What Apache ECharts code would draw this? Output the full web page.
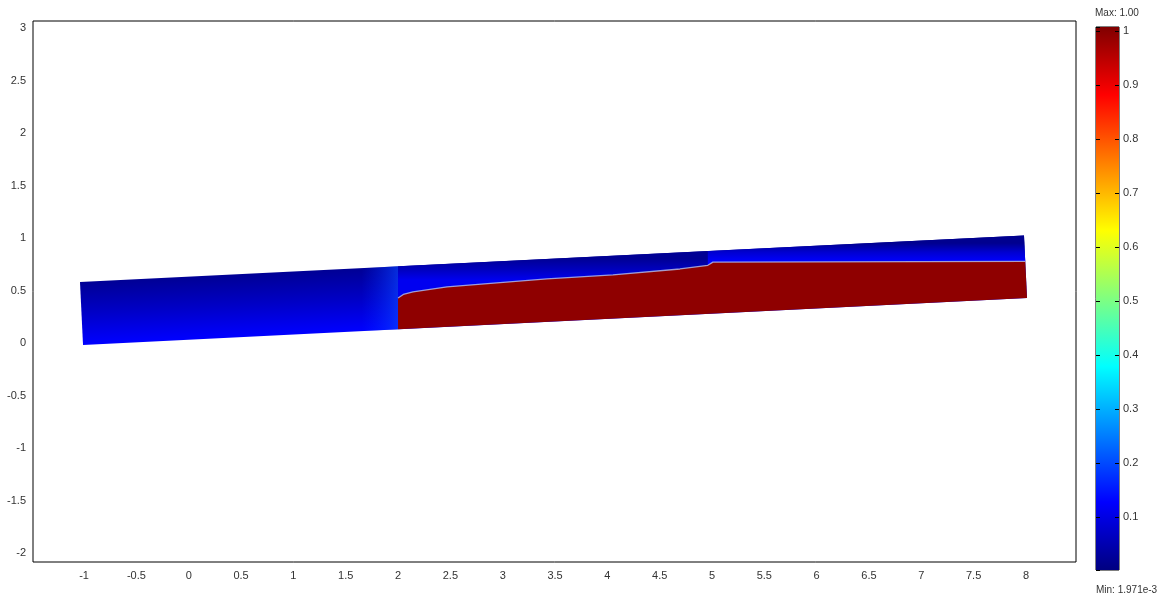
<!DOCTYPE html>
<html><head><meta charset="utf-8">
<script src="https://cdn.jsdelivr.net/npm/echarts@6/dist/echarts.min.js"></script>
<style>html,body{margin:0;padding:0;background:#fff}#c{width:1173px;height:597px}</style>
</head><body><div id="c"></div>
<script>
// ---- data ----
const xRange = [-1.488, 8.478];
const yRange = [-2.086, 3.067];
// channel outline (bottom-left, bottom-right, top-right, top-left)
const channelX = [-1.010, 8.010, 7.981, -1.039];
const channelY = [-0.019, 0.429, 1.024, 0.581];
// interface between phases (left to right)
const interfaceX = [2.000, 2.050, 2.143, 2.468, 2.945, 3.423, 4.054, 4.694, 4.960, 5.009, 7.993];
const interfaceY = [0.429, 0.462, 0.486, 0.534, 0.572, 0.610, 0.648, 0.705, 0.740, 0.770, 0.778];
// bottom edge point where the red phase starts
const phaseStartX = 2.000;
const phaseStartY = 0.130;
// field levels
const blueTopLevel = 0.02;
const blueMidLevel = 0.07;
const blueBottomLevel = 0.125;
const redLevel = 0.985;
const colorRange = [0.001971, 1.00];
const colorAxisMax = 1.007;

function jet(v){
  const c = t => Math.max(0, Math.min(1, t));
  const r = c(Math.min(4*v-1.5, -4*v+4.5));
  const g = c(Math.min(4*v-0.5, -4*v+3.5));
  const b = c(Math.min(4*v+0.5, -4*v+2.5));
  return 'rgb(' + Math.round(r*255) + ',' + Math.round(g*255) + ',' + Math.round(b*255) + ')';
}
const G = echarts.graphic;

function polySeries(xs, ys, styleFn, z){
  return {
    type: 'custom', coordinateSystem: 'cartesian2d', xAxisIndex: 0, yAxisIndex: 0,
    z: z, silent: true, animation: false, clip: true,
    data: xs.map((x, i) => [x, ys[i]]),
    encode: {x: 0, y: 1},
    renderItem: function(params, api){
      if (params.dataIndex !== 0) return null;
      const pts = xs.map((x, i) => api.coord([x, ys[i]]));
      return {type: 'polygon', shape: {points: pts}, style: styleFn(api, pts)};
    }
  };
}
function mid(a, b){ return [(a[0]+b[0])/2, (a[1]+b[1])/2]; }
function topY(x){ return channelY[3] + (x-channelX[3])*(channelY[2]-channelY[3])/(channelX[2]-channelX[3]); }
function botY(x){ return channelY[0] + (x-channelX[0])*(channelY[1]-channelY[0])/(channelX[1]-channelX[0]); }
function blueGrad(a, b, top, midL, bot){
  return new G.LinearGradient(a[0], a[1], b[0], b[1], [
    {offset: 0, color: jet(top)},
    {offset: 0.5, color: jet(midL)},
    {offset: 1, color: jet(bot)}
  ], true);
}

// whole channel (blue)
const chanSeries = polySeries(channelX, channelY, function(api, p){
  const top = mid(p[3], p[2]), bot = mid(p[0], p[1]);
  return {fill: blueGrad(top, bot, blueTopLevel, blueMidLevel, blueBottomLevel)};
}, 2);

// bright blue zone left of the red front
const frontX = [1.65, phaseStartX, phaseStartX, 1.65];
const frontY = [botY(1.65), phaseStartY, topY(phaseStartX), topY(1.65)];
const frontSeries = polySeries(frontX, frontY, function(api, p){
  return {fill: new G.LinearGradient(p[0][0], 0, p[1][0], 0, [
    {offset: 0, color: 'rgba(0,40,255,0)'},
    {offset: 1, color: 'rgba(10,70,255,0.65)'}
  ], true)};
}, 3);

// upper blue strip above the curved interface (2 <= x <= 5)
const nCurve = 9;
const stripAX = interfaceX.slice(0, nCurve).concat([interfaceX[nCurve-1], phaseStartX]);
const stripAY = interfaceY.slice(0, nCurve).concat([topY(interfaceX[nCurve-1]), topY(phaseStartX)]);
const stripASeries = polySeries(stripAX, stripAY, function(api, p){
  const a = api.coord([3.5, topY(3.5)]), b = api.coord([3.5, 0.60]);
  return {fill: blueGrad(a, b, 0.02, 0.06, 0.11)};
}, 4);
// upper blue strip above the flat interface (x >= 5)
const stripBX = interfaceX.slice(nCurve-1).concat([channelX[2], interfaceX[nCurve-1]]);
const stripBY = interfaceY.slice(nCurve-1).concat([channelY[2], topY(interfaceX[nCurve-1])]);
const stripBSeries = polySeries(stripBX, stripBY, function(api, p){
  const a = api.coord([6.5, topY(6.5)]), b = api.coord([6.5, 0.775]);
  return {fill: blueGrad(a, b, 0.015, 0.08, 0.125)};
}, 4);

// red phase
const redX = [phaseStartX, channelX[1]].concat(interfaceX.slice().reverse());
const redY = [phaseStartY, channelY[1]].concat(interfaceY.slice().reverse());
const redSeries = polySeries(redX, redY, function(){ return {fill: jet(redLevel)}; }, 5);

const labelFont = {fontSize: 11, color: '#333', fontFamily: 'Liberation Sans'};
const cbTick = {show: true, inside: true, length: 4, lineStyle: {color: '#000', width: 1}};

const option = {
  backgroundColor: '#fff',
  animation: false,
  grid: [
    {left: 33, top: 21, width: 1043, height: 541, show: true, borderColor: '#000', borderWidth: 1, backgroundColor: '#fff'},
    {left: 1096, top: 27, width: 23, height: 543, show: true, borderColor: '#000', borderWidth: 1}
  ],
  xAxis: [
    {type: 'value', gridIndex: 0, min: xRange[0], max: xRange[1], splitNumber: 20, minInterval: 0.5, maxInterval: 0.5,
     axisLine: {show: false, onZero: false}, axisTick: {show: false}, splitLine: {show: false},
     axisLabel: Object.assign({showMinLabel: false, showMaxLabel: false, margin: 8}, labelFont)},
    {type: 'category', gridIndex: 1, data: ['c'], show: false, boundaryGap: true}
  ],
  yAxis: [
    {type: 'value', gridIndex: 0, min: yRange[0], max: yRange[1], splitNumber: 10, minInterval: 0.5, maxInterval: 0.5,
     axisLine: {show: false, onZero: false}, axisTick: {show: false}, splitLine: {show: false},
     axisLabel: Object.assign({showMinLabel: false, showMaxLabel: false, margin: 7}, labelFont)},
    {type: 'value', gridIndex: 1, position: 'right', z: 10, min: colorRange[0], max: colorAxisMax, splitNumber: 10, minInterval: 0.1, maxInterval: 0.1,
     axisLine: {show: false, onZero: false}, axisTick: cbTick, splitLine: {show: false},
     axisLabel: Object.assign({showMinLabel: false, showMaxLabel: false, margin: 4}, labelFont)},
    {type: 'value', gridIndex: 1, position: 'left', z: 10, min: colorRange[0], max: colorAxisMax, splitNumber: 10, minInterval: 0.1, maxInterval: 0.1,
     axisLine: {show: false, onZero: false}, axisTick: cbTick, splitLine: {show: false},
     axisLabel: {show: false}}
  ],
  series: [
    chanSeries, frontSeries, stripASeries, stripBSeries, redSeries,
    {type: 'line', xAxisIndex: 0, yAxisIndex: 0, z: 6, silent: true, symbol: 'none',
     data: interfaceX.map((x, i) => [x, interfaceY[i]]),
     lineStyle: {color: 'rgba(185,195,235,0.8)', width: 1.3}},
    {type: 'custom', coordinateSystem: 'cartesian2d', xAxisIndex: 1, yAxisIndex: 1, z: 1, silent: true,
     data: [['c', colorAxisMax]],
     renderItem: function(params, api){
       const a = api.coord(['c', colorAxisMax]), b = api.coord(['c', colorRange[0]]);
       const w = api.size(['c', 0])[0];
       const stops = [0, 0.125, 0.25, 0.375, 0.5, 0.625, 0.75, 0.875, 1].map(v => ({offset: 1 - v, color: jet(v)}));
       return {type: 'rect', shape: {x: a[0] - w/2, y: a[1], width: w, height: b[1]-a[1]},
               style: {fill: new G.LinearGradient(0, 0, 0, 1, stops)}};
     }}
  ],
  graphic: [
    {type: 'text', left: 1095, top: 8, style: {text: 'Max: ' + colorRange[1].toFixed(2), fontSize: 10, fill: '#333', fontFamily: 'Liberation Sans'}},
    {type: 'text', left: 1096, top: 585, style: {text: 'Min: ' + colorRange[0].toExponential(3), fontSize: 10, fill: '#333', fontFamily: 'Liberation Sans'}}
  ]
};
const chart = echarts.init(document.getElementById('c'), null, {renderer: 'canvas'});
chart.setOption(option);
</script></body></html>
